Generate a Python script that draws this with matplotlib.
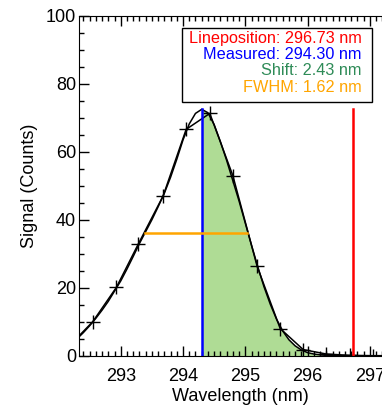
import matplotlib.pyplot as plt
from matplotlib.ticker import MultipleLocator

plt.rcParams['font.family'] = ['Liberation Sans', 'DejaVu Sans']

# measured points (crosses)
wl_meas = [292.18, 292.55, 292.93, 293.28, 293.68, 294.05, 294.43, 294.8,
           295.19, 295.56, 295.93, 296.3, 296.68, 297.05, 297.42]
sig_meas = [3.0, 10.0, 20.1, 32.8, 47.0, 66.6, 71.3, 53.0,
            26.3, 8.0, 1.8, 0.5, 0.1, 0.0, 0.0]

# fitted curve
wl_fit = [292.2, 292.3, 292.4, 292.5, 292.6, 292.7, 292.8, 292.9, 293.0, 293.1,
          293.2, 293.3, 293.4, 293.5, 293.6, 293.7, 293.8, 293.9, 294.0, 294.1,
          294.2, 294.3, 294.4, 294.5, 294.6, 294.7, 294.8, 294.9, 295.0, 295.1,
          295.2, 295.3, 295.4, 295.5, 295.6, 295.7, 295.8, 295.9, 296.0, 296.1,
          296.2, 296.3, 296.5, 296.7, 297.0, 297.5]
sig_fit = [3.2, 5.0, 6.8, 8.8, 11.0, 13.4, 16.0, 19.0, 22.0, 25.5,
           29.2, 33.0, 36.5, 40.0, 43.8, 47.8, 52.5, 57.8, 63.5, 68.2,
           71.3, 72.5, 71.5, 68.0, 63.0, 57.5, 51.5, 45.5, 39.0, 32.5,
           26.2, 20.3, 15.2, 10.8, 7.3, 4.7, 2.9, 1.7, 0.9, 0.5,
           0.25, 0.1, 0.03, 0.01, 0.0, 0.0]

line_pos = 296.73
measured = 294.30
peak = 72.5
fwhm_left, fwhm_right, half_max = 293.39, 295.03, 36.0

fig = plt.figure(figsize=(3.82, 4.07), dpi=100)
ax = fig.add_axes([0.2068, 0.126, 0.843, 0.835])

fill_x = [x for x in wl_fit if x >= measured]
fill_y = [y for x, y in zip(wl_fit, sig_fit) if x >= measured]
ax.fill_between(fill_x, 0, fill_y, color='#a6d98a', alpha=0.9, lw=0)

ax.plot(wl_fit, sig_fit, color='black', lw=1.1)
ax.plot(wl_meas, sig_meas, color='black', lw=1.1, marker='+', ms=10, mew=1.0)

ax.plot([measured, measured], [0, peak], color='blue', lw=1.8)
ax.plot([line_pos, line_pos], [0, peak], color='red', lw=1.8)
ax.plot([fwhm_left, fwhm_right], [half_max, half_max], color='orange', lw=1.8)

txt = [('Lineposition: 296.73 nm', 'red'), ('Measured: 294.30 nm', 'blue'),
       ('Shift: 2.43 nm', 'seagreen'), ('FWHM: 1.62 nm', 'orange')]
for i, (s, c) in enumerate(txt):
    ax.text(296.87, 93.3 - i * 4.75, s, color=c, fontsize=11.7, ha='right', va='center')
ax.add_patch(plt.Rectangle((293.98, 74.6), 3.05, 21.8, fill=False, ec='black', lw=1.0))

ax.set_xlim(292.33, 297.5)
ax.set_ylim(0, 100)
ax.xaxis.set_major_locator(MultipleLocator(1))
ax.xaxis.set_minor_locator(MultipleLocator(0.1))
ax.yaxis.set_major_locator(MultipleLocator(20))
ax.yaxis.set_minor_locator(MultipleLocator(5))
ax.tick_params(which='both', direction='in', top=True, right=True, labelsize=13)
ax.tick_params(which='major', length=7, width=1.0)
ax.tick_params(which='minor', length=3.5, width=1.0)
ax.tick_params(axis='x', which='major', pad=9)
ax.tick_params(axis='y', which='major', pad=2)
ax.set_xlabel('Wavelength (nm)', fontsize=13, labelpad=2)
ax.set_ylabel('Signal (Counts)', fontsize=13, labelpad=6)

plt.savefig('out.png', dpi=100)
